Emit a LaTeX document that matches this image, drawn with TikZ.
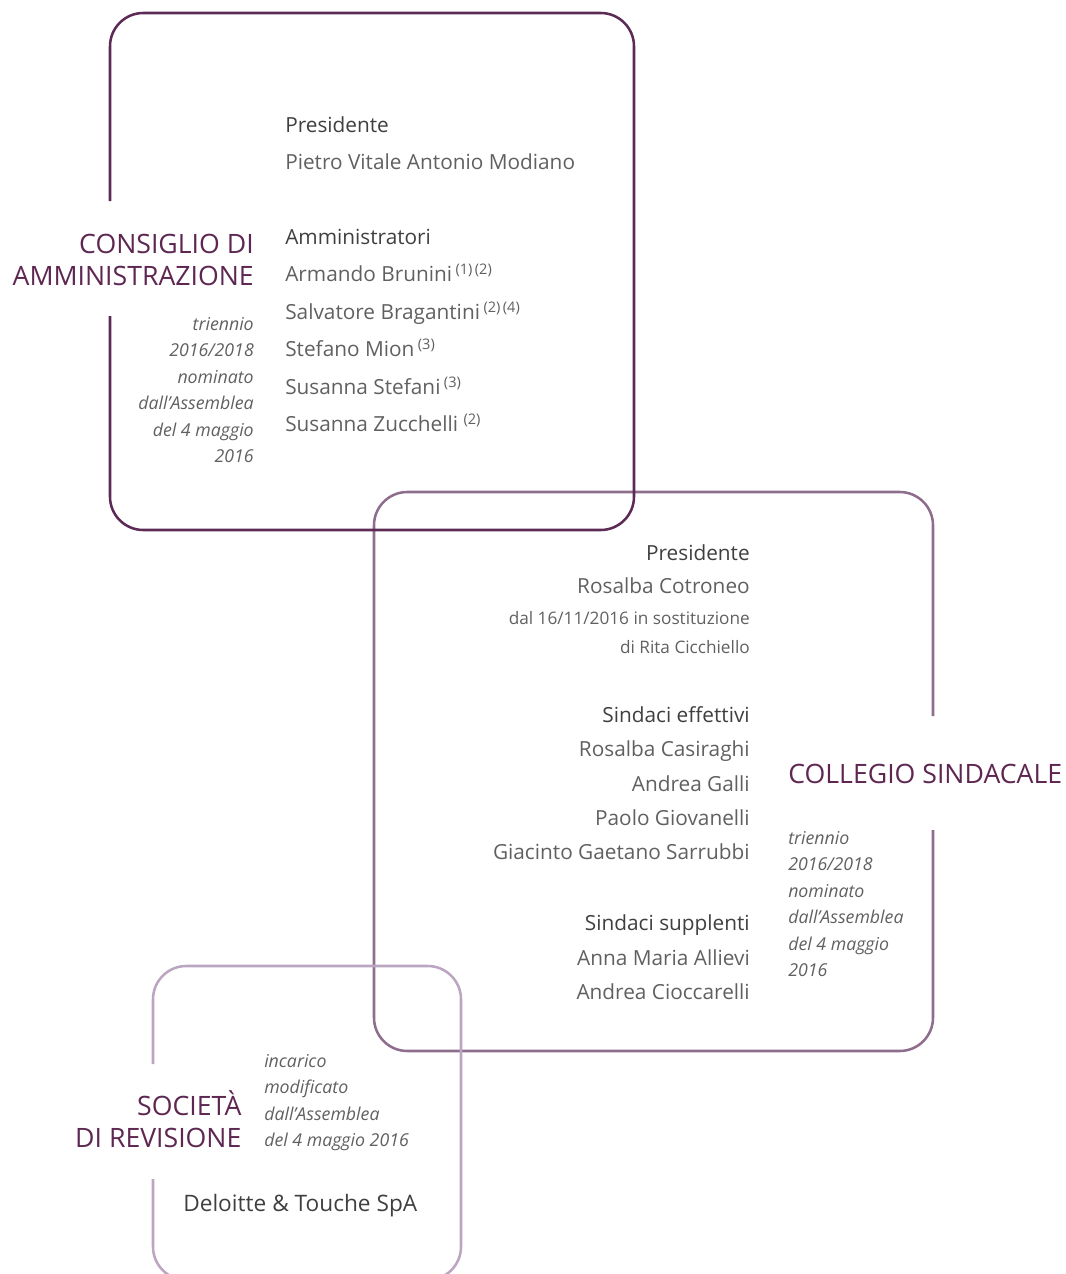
\documentclass[tikz,border=0pt]{standalone}
\usepackage{fontspec}
\setmainfont{Open Sans}
\definecolor{plumdark}{HTML}{5C2A55}
\definecolor{plummid}{HTML}{8F6D8C}
\definecolor{plumlight}{HTML}{BCA5C1}
\definecolor{titleplum}{HTML}{5E2751}
\definecolor{textgrey}{HTML}{606062}
\definecolor{headgrey}{HTML}{3F3F41}
\tikzset{
  frame/.style={line width=1.9pt, rounded corners=25pt},
  title/.style={font=\fontsize{20}{24}\selectfont, text=titleplum, inner sep=0pt},
  head/.style={font=\fontsize{15.6}{19}\selectfont, text=headgrey, inner sep=0pt},
  person/.style={font=\fontsize{15.6}{19}\selectfont, text=textgrey, inner sep=0pt},
  remark/.style={font=\fontsize{12.9}{16}\selectfont, text=textgrey, inner sep=0pt},
  term/.style={font=\fontsize{13.3}{16}\selectfont\itshape, text=textgrey, inner sep=0pt}
}
\begin{document}
\begin{tikzpicture}[x=0.75pt, y=-0.75pt]
  \pgfmathsetmacro{\lc}{37.4}
  \pgfmathsetmacro{\ls}{34.4}
  \pgfmathsetmacro{\lt}{26.5}
  \useasboundingbox (0,0) rectangle (1066,1274);

  \draw[frame, plummid] (933,716) -- (933,492) -- (374,492) -- (374,1051) -- (933,1051) -- (933,830);
  \draw[frame, plumdark] (110,201) -- (110,13) -- (634,13) -- (634,530) -- (110,530) -- (110,316);
  \draw[frame, plumlight] (153,1064) -- (153,966) -- (461,966) -- (461,1280) -- (153,1280) -- (153,1179);

  % consiglio di amministrazione
  \node[title, anchor=base east] (cdaA) at (254,253) {CONSIGLIO DI};
  \node[title, anchor=base east] (cdaB) at (254,285) {AMMINISTRAZIONE};
  \foreach \t [count=\i from 0] in {triennio, 2016/2018, nominato, dall’Assemblea, del 4 maggio, 2016}
  \node[term, anchor=base east] (cdaT\i) at (254, 330 + \lt*\i) {\t};
  \node[head, anchor=base west] (cdaPres) at (285,132.6) {Presidente};
  \node[person, anchor=base west] (cdaPresN) at (285,169.8) {Pietro Vitale Antonio Modiano};
  \node[head, anchor=base west] (cdaAmm) at (285,244.5) {Amministratori};
  \foreach \t [count=\i] in {Armando Brunini\,\textsuperscript{(1)\,(2)},
      Salvatore Bragantini\,\textsuperscript{(2)\,(4)}, Stefano Mion\,\textsuperscript{(3)},
      Susanna Stefani\,\textsuperscript{(3)}, Susanna Zucchelli\ \textsuperscript{(2)}}
  \node[person, anchor=base west] (cdaAmm\i) at (285, 244.5 + \lc*\i) {\t};

  % collegio sindacale
  \node[title, anchor=base west] (csA) at (788,783.4) {COLLEGIO SINDACALE};
  \foreach \t [count=\i from 0] in {triennio, 2016/2018, nominato, dall’Assemblea, del 4 maggio, 2016}
  \node[term, anchor=base west] (csT\i) at (788, 844.4 + \lt*\i) {\t};
  \node[head, anchor=base east] (csPres) at (750,560) {Presidente};
  \node[person, anchor=base east] (csPresN) at (750,593.6) {Rosalba Cotroneo};
  \node[remark, anchor=base east] (csRemA) at (750,624.3) {dal 16/11/2016 in sostituzione};
  \node[remark, anchor=base east] (csRemB) at (750,653) {di Rita Cicchiello};
  \node[head, anchor=base east] (csEff) at (750,722.3) {Sindaci effettivi};
  \foreach \t [count=\i] in {Rosalba Casiraghi, Andrea Galli, Paolo Giovanelli, Giacinto Gaetano Sarrubbi}
  \node[person, anchor=base east] (csEff\i) at (750, 722.3 + \ls*\i) {\t};
  \node[head, anchor=base east] (csSup) at (750,930.6) {Sindaci supplenti};
  \foreach \t [count=\i] in {Anna Maria Allievi, Andrea Cioccarelli}
  \node[person, anchor=base east] (csSup\i) at (750, 930.6 + \ls*\i) {\t};

  % societa di revisione
  \node[title, anchor=base east] (srA) at (241.7,1115.7) {SOCIETÀ};
  \node[title, anchor=base east] (srB) at (241.7,1147) {DI REVISIONE};
  \foreach \t [count=\i from 0] in {incarico, modificato, dall’Assemblea, del 4 maggio 2016}
  \node[term, anchor=base west] (srT\i) at (264, 1067 + \lt*\i) {\t};
  \node[head, anchor=base west, font=\fontsize{17}{20}\selectfont] (srName) at (183,1211.7) {Deloitte \& Touche SpA};
\end{tikzpicture}
\end{document}
